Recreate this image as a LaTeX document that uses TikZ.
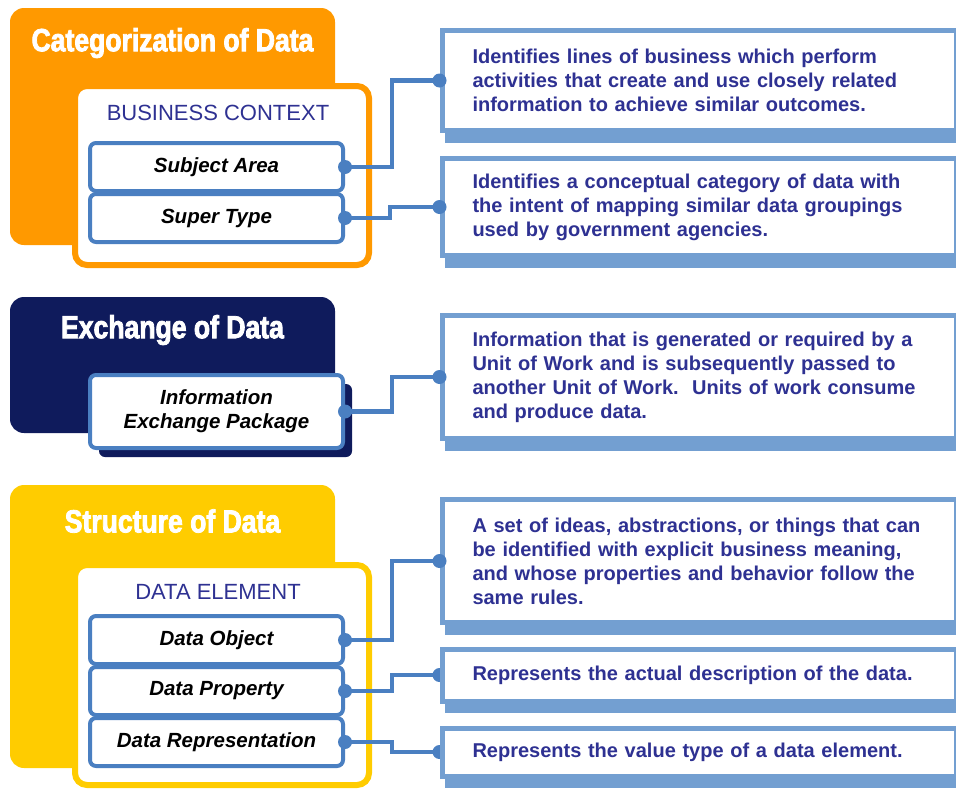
\documentclass[tikz,border=0pt]{standalone}
\usepackage{fontspec}
\setmainfont{Liberation Sans}
\newfontfamily\titlefont[FakeStretch=0.83,FakeBold=2.5]{Liberation Sans}
\usetikzlibrary{positioning,shadows}
\definecolor{catorange}{HTML}{FF9900}
\definecolor{xchnavy}{HTML}{0F1B5C}
\definecolor{strucyellow}{HTML}{FFCC00}
\definecolor{itemblue}{HTML}{4A7FC1}
\definecolor{descblue}{HTML}{739FD1}
\definecolor{textblue}{HTML}{2E3192}
\tikzset{
  sectionbg/.style={rounded corners=14pt},
  sectiontitle/.style={text=white,font=\titlefont\bfseries\fontsize{32}{36}\selectfont},
  innerbox/.style={fill=white,line width=6pt,rounded corners=12pt},
  heading/.style={text=textblue,font=\fontsize{22}{26}\selectfont},
  itembox/.style={draw=itemblue,fill=white,line width=4pt,rounded corners=6pt,
    minimum width=253pt,minimum height=48pt,align=center,inner sep=2pt,
    font=\bfseries\itshape\fontsize{20.5}{24}\selectfont},
  descbox/.style={draw=descblue,fill=white,line width=5pt,anchor=west,align=left,
    text width=453pt,inner xsep=30.5pt,inner ysep=4pt,text=textblue,
    font=\bfseries\fontsize{20}{24}\selectfont,
    drop shadow={shadow xshift=3pt,shadow yshift=-12pt,fill=descblue,opacity=1}},
  link/.style={draw=itemblue,line width=4.5pt},
  joint/.style={fill=itemblue}
}
\begin{document}
\begin{tikzpicture}[x=1pt,y=-1pt]
	\useasboundingbox (0,0) rectangle (956,790);
	\clip (0,0) rectangle (956,790);
	% categorization
	\fill[catorange,sectionbg] (10,8) rectangle (335,245);
	\node[sectiontitle] (cattitle) at (172.5,43) {Categorization of Data};
	\draw[catorange,innerbox] (75,86) rectangle (369,265);
	\node[heading] (bizctx) at (218,113) {BUSINESS CONTEXT};
	\node[itembox] (subjarea) at (216.5,167) {Subject Area};
	\node[itembox,below=-1pt of subjarea] (supertype) {Super Type};
	\node[descbox,minimum height=100pt] (lob) at (439.5,80.5) {Identifies lines of business which perform\\activities that create and use closely related\\information to achieve similar outcomes.};
	\node[descbox,minimum height=97pt] (concept) at (439.5,207) {Identifies a conceptual category of data with\\the intent of mapping similar data groupings\\used by government agencies.};
	\draw[link] (subjarea.east) -- ++(47,0) |- (lob.west);
	\draw[link] (supertype.east) -- ++(45,0) |- (concept.west);
	\fill[joint] (subjarea.east) circle (7pt);
	\fill[joint] (supertype.east) circle (7pt);
	\fill[joint] (lob.west) circle (7pt);
	\fill[joint] (concept.west) circle (7pt);
	% exchange
	\fill[xchnavy,sectionbg] (10,297) rectangle (335,433);
	\node[sectiontitle] (xchtitle) at (172.5,330) {Exchange of Data};
	\node[itembox,minimum height=73pt,drop shadow={shadow xshift=9pt,shadow yshift=-9pt,fill=xchnavy,opacity=1}] (iep) at (216.5,411.5) {Information\\Exchange Package};
	\node[descbox,minimum height=123pt] (unitwork) at (439.5,377) {Information that is generated or required by a\\Unit of Work and is subsequently passed to\\another Unit of Work.~~Units of work consume\\and produce data.};
	\draw[link] (iep.east) -- ++(47,0) |- (unitwork.west);
	\fill[joint] (iep.east) circle (7pt);
	\fill[joint] (unitwork.west) circle (7pt);
	% structure
	\fill[strucyellow,sectionbg] (10,485) rectangle (335,768);
	\node[sectiontitle] (structitle) at (172.5,521) {Structure of Data};
	\draw[strucyellow,innerbox] (75,565) rectangle (369,785);
	\node[heading] (dataelem) at (218,592) {DATA ELEMENT};
	\node[itembox] (dataobj) at (216.5,640) {Data Object};
	\node[itembox,below=-1pt of dataobj] (dataprop) {Data Property};
	\node[itembox,below=-1pt of dataprop] (datarep) {Data Representation};
	\coordinate (propend) at (439.5,675);
	\coordinate (repend) at (439.5,752);
	\draw[link] (dataprop.east) -- ++(47,0) |- (propend);
	\draw[link] (datarep.east) -- ++(47,0) |- (repend);
	\fill[joint] (propend) circle (7pt);
	\fill[joint] (repend) circle (7pt);
	\node[descbox,minimum height=123pt] (ideas) at (439.5,561) {A set of ideas, abstractions, or things that can\\be identified with explicit business meaning,\\and whose properties and behavior follow the\\same rules.};
	\node[descbox,minimum height=52pt] (actual) at (propend) {Represents the actual description of the data.};
	\node[descbox,minimum height=48pt] (valtype) at (repend) {Represents the value type of a data element.};
	\draw[link] (dataobj.east) -- ++(47,0) |- (ideas.west);
	\fill[joint] (dataobj.east) circle (7pt);
	\fill[joint] (dataprop.east) circle (7pt);
	\fill[joint] (datarep.east) circle (7pt);
	\fill[joint] (ideas.west) circle (7pt);
\end{tikzpicture}
\end{document}
